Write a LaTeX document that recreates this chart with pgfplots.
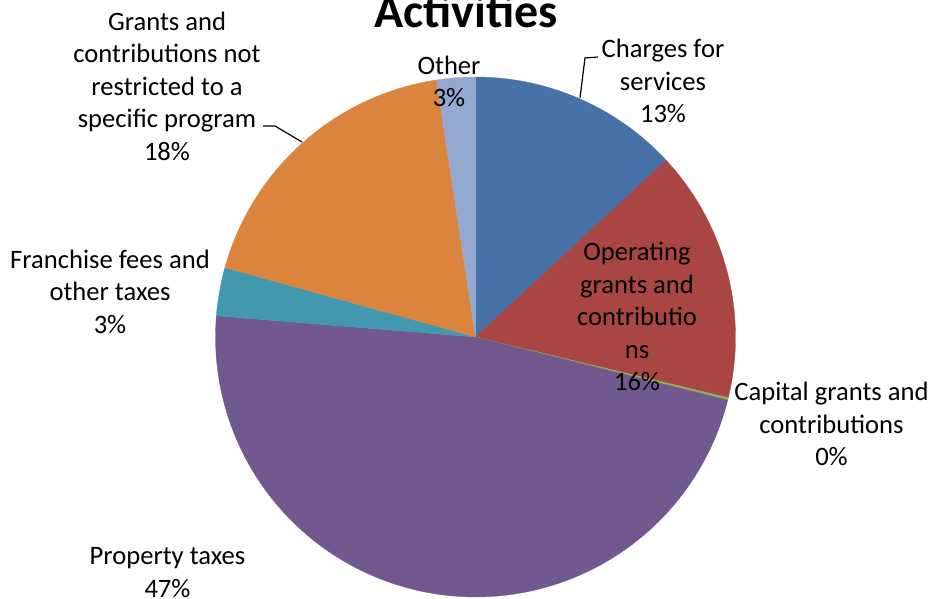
\documentclass[border=0pt]{standalone}
\usepackage{pgfplots}
\pgfplotsset{compat=1.18}
\usepackage{fontspec}
\setmainfont{Carlito}
\definecolor{cBlue}{HTML}{4672A8}
\definecolor{cRed}{HTML}{A94643}
\definecolor{cGreen}{HTML}{8CAE4E}
\definecolor{cPurple}{HTML}{71588F}
\definecolor{cTeal}{HTML}{4298AF}
\definecolor{cOrange}{HTML}{DB843D}
\definecolor{cLight}{HTML}{95A9D0}
% slice shares in percent (clockwise from 12 o'clock):
% Charges 13.1, Operating 15.65, Capital 0.15, Property 47.4, Franchise 3.0, Grants 18.3, Other 2.4
\newcommand{\cx}{475.5}
\newcommand{\cy}{262}
\newcommand{\rr}{260}
\newcommand{\slice}[3]{%
  \addplot[fill=#1, draw=#1, line width=0.3pt, domain={#2*3.6}:{#3*3.6}, samples=120, variable=\t]
    ({\cx+\rr*sin(t)},{\cy+\rr*cos(t)}) -- (axis cs:\cx,\cy) -- cycle;}
\begin{document}
\begin{tikzpicture}
\useasboundingbox (0,0) rectangle (932pt,599pt);
\begin{axis}[at={(0,0)}, anchor=south west, scale only axis, width=932pt, height=599pt,
  xmin=0, xmax=932, ymin=0, ymax=599, hide axis, clip=false]
\slice{cBlue}{0}{13.1}
\slice{cRed}{13.1}{28.75}
\slice{cGreen}{28.75}{28.9}
\slice{cPurple}{28.9}{76.3}
\slice{cTeal}{76.3}{79.3}
\slice{cOrange}{79.3}{97.6}
\slice{cLight}{97.6}{100}
\addplot[black, line width=1.2pt] coordinates {(580,501) (585,541) (598,542)};
\addplot[black, line width=1.2pt] coordinates {(263,473) (275,473) (302,457)};
\begin{scope}[every node/.style={align=center, anchor=base, inner sep=0pt, font=\fontsize{26.6}{32.6}\selectfont}]
\node[overlay, font=\fontsize{48}{58}\selectfont\bfseries] at (axis cs:466,571) {Activities};
\node at (axis cs:167,438.5) {Grants and\\contributions not\\restricted to a\\specific program\\18\%};
\node at (axis cs:449,492) {Other\\3\%};
\node at (axis cs:663,476) {Charges for\\services\\13\%};
\node at (axis cs:637,208) {Operating\\grants and\\contributio\\ns\\16\%};
\node at (axis cs:831.5,133) {Capital grants and\\contributions\\0\%};
\node at (axis cs:110,265.5) {Franchise fees and\\other taxes\\3\%};
\node at (axis cs:167.5,1.5) {Property taxes\\47\%};
\end{scope}
\end{axis}
\end{tikzpicture}
\end{document}
